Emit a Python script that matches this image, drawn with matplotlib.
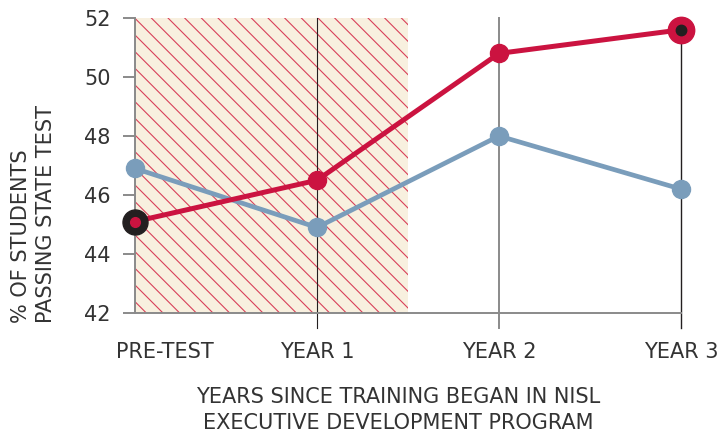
import matplotlib
matplotlib.use("Agg")
import matplotlib.pyplot as plt
from matplotlib.transforms import ScaledTranslation

# data
stages = ["PRE-TEST", "YEAR 1", "YEAR 2", "YEAR 3"]
nisl = [45.1, 46.5, 50.8, 51.6]
comparison = [46.9, 44.9, 48.0, 46.2]
yticks = [42, 44, 46, 48, 50, 52]
training_end = 1.5

red = "#CB1340"
blue = "#7A9DBB"
black = "#231F20"
text_col = "#333333"
grey = "#8a8a8a"
fs = 15

plt.rcParams["font.family"] = ["DejaVu Sans"]
plt.rcParams["hatch.linewidth"] = 0.8

fig = plt.figure(figsize=(7.23, 4.36), dpi=100)
ax = fig.add_axes([135 / 723, 1 - 313 / 436, (681 - 135) / 723, (313 - 18) / 436])

x = list(range(len(stages)))

# shaded training period
ax.axvspan(0, training_end, facecolor="#F8F0DF", edgecolor="#D8405A",
           hatch="\\\\", linewidth=0, zorder=0)

# vertical guides (run a bit below the axis)
ybot = 42 - 15 / 29.5
ax.plot([x[1], x[1]], [52, ybot], color=black, lw=0.8, clip_on=False, zorder=1)
ax.plot([x[2], x[2]], [52, ybot], color=grey, lw=1.4, clip_on=False, zorder=1)
ax.plot([x[3], x[3]], [52, ybot], color=black, lw=1.0, clip_on=False, zorder=1)

ax.plot(x, comparison, color=blue, lw=3.4, marker="o", ms=13, clip_on=False, zorder=3)
ax.plot(x, nisl, color=red, lw=3.6, marker="o", ms=13, clip_on=False, zorder=4)

# highlighted start and end points
ax.plot(x[0], nisl[0], marker="o", ms=18, color=black, clip_on=False, zorder=5)
ax.plot(x[0], nisl[0], marker="o", ms=7, color=red, clip_on=False, zorder=6)
ax.plot(x[3], nisl[3], marker="o", ms=19, color=red, clip_on=False, zorder=5)
ax.plot(x[3], nisl[3], marker="o", ms=7.5, color=black, clip_on=False, zorder=6)

ax.set_xlim(0, 3)
ax.set_ylim(42, 52)
ax.set_yticks(yticks)
ax.set_xticks(x)
ax.set_xticklabels(stages)

for s in ["top", "right"]:
    ax.spines[s].set_visible(False)
for s in ["left", "bottom"]:
    ax.spines[s].set_color(grey)
    ax.spines[s].set_linewidth(1.4)
    ax.spines[s].set_zorder(2)

ax.tick_params(axis="y", length=8.6, width=1.4, color=grey, pad=9,
               labelsize=fs, labelcolor=text_col)
ax.tick_params(axis="x", length=0, pad=21, labelsize=fs, labelcolor=text_col)

# first label sits right of its tick in the original
lab = ax.get_xticklabels()[0]
lab.set_transform(lab.get_transform() + ScaledTranslation(0.30, 0, fig.dpi_scale_trans))

fig.text(21 / 723, 1 - 323 / 436, "% OF STUDENTS", rotation=90, ha="center",
         va="bottom", fontsize=fs, color=text_col)
fig.text(46 / 723, 1 - 323 / 436, "PASSING STATE TEST", rotation=90, ha="center",
         va="bottom", fontsize=fs, color=text_col)

fig.text(398 / 723, 1 - 397 / 436, "YEARS SINCE TRAINING BEGAN IN NISL",
         ha="center", va="center", fontsize=fs, color=text_col)
fig.text(398 / 723, 1 - 423 / 436, "EXECUTIVE DEVELOPMENT PROGRAM",
         ha="center", va="center", fontsize=fs, color=text_col)

fig.savefig("out.png", dpi=100)
